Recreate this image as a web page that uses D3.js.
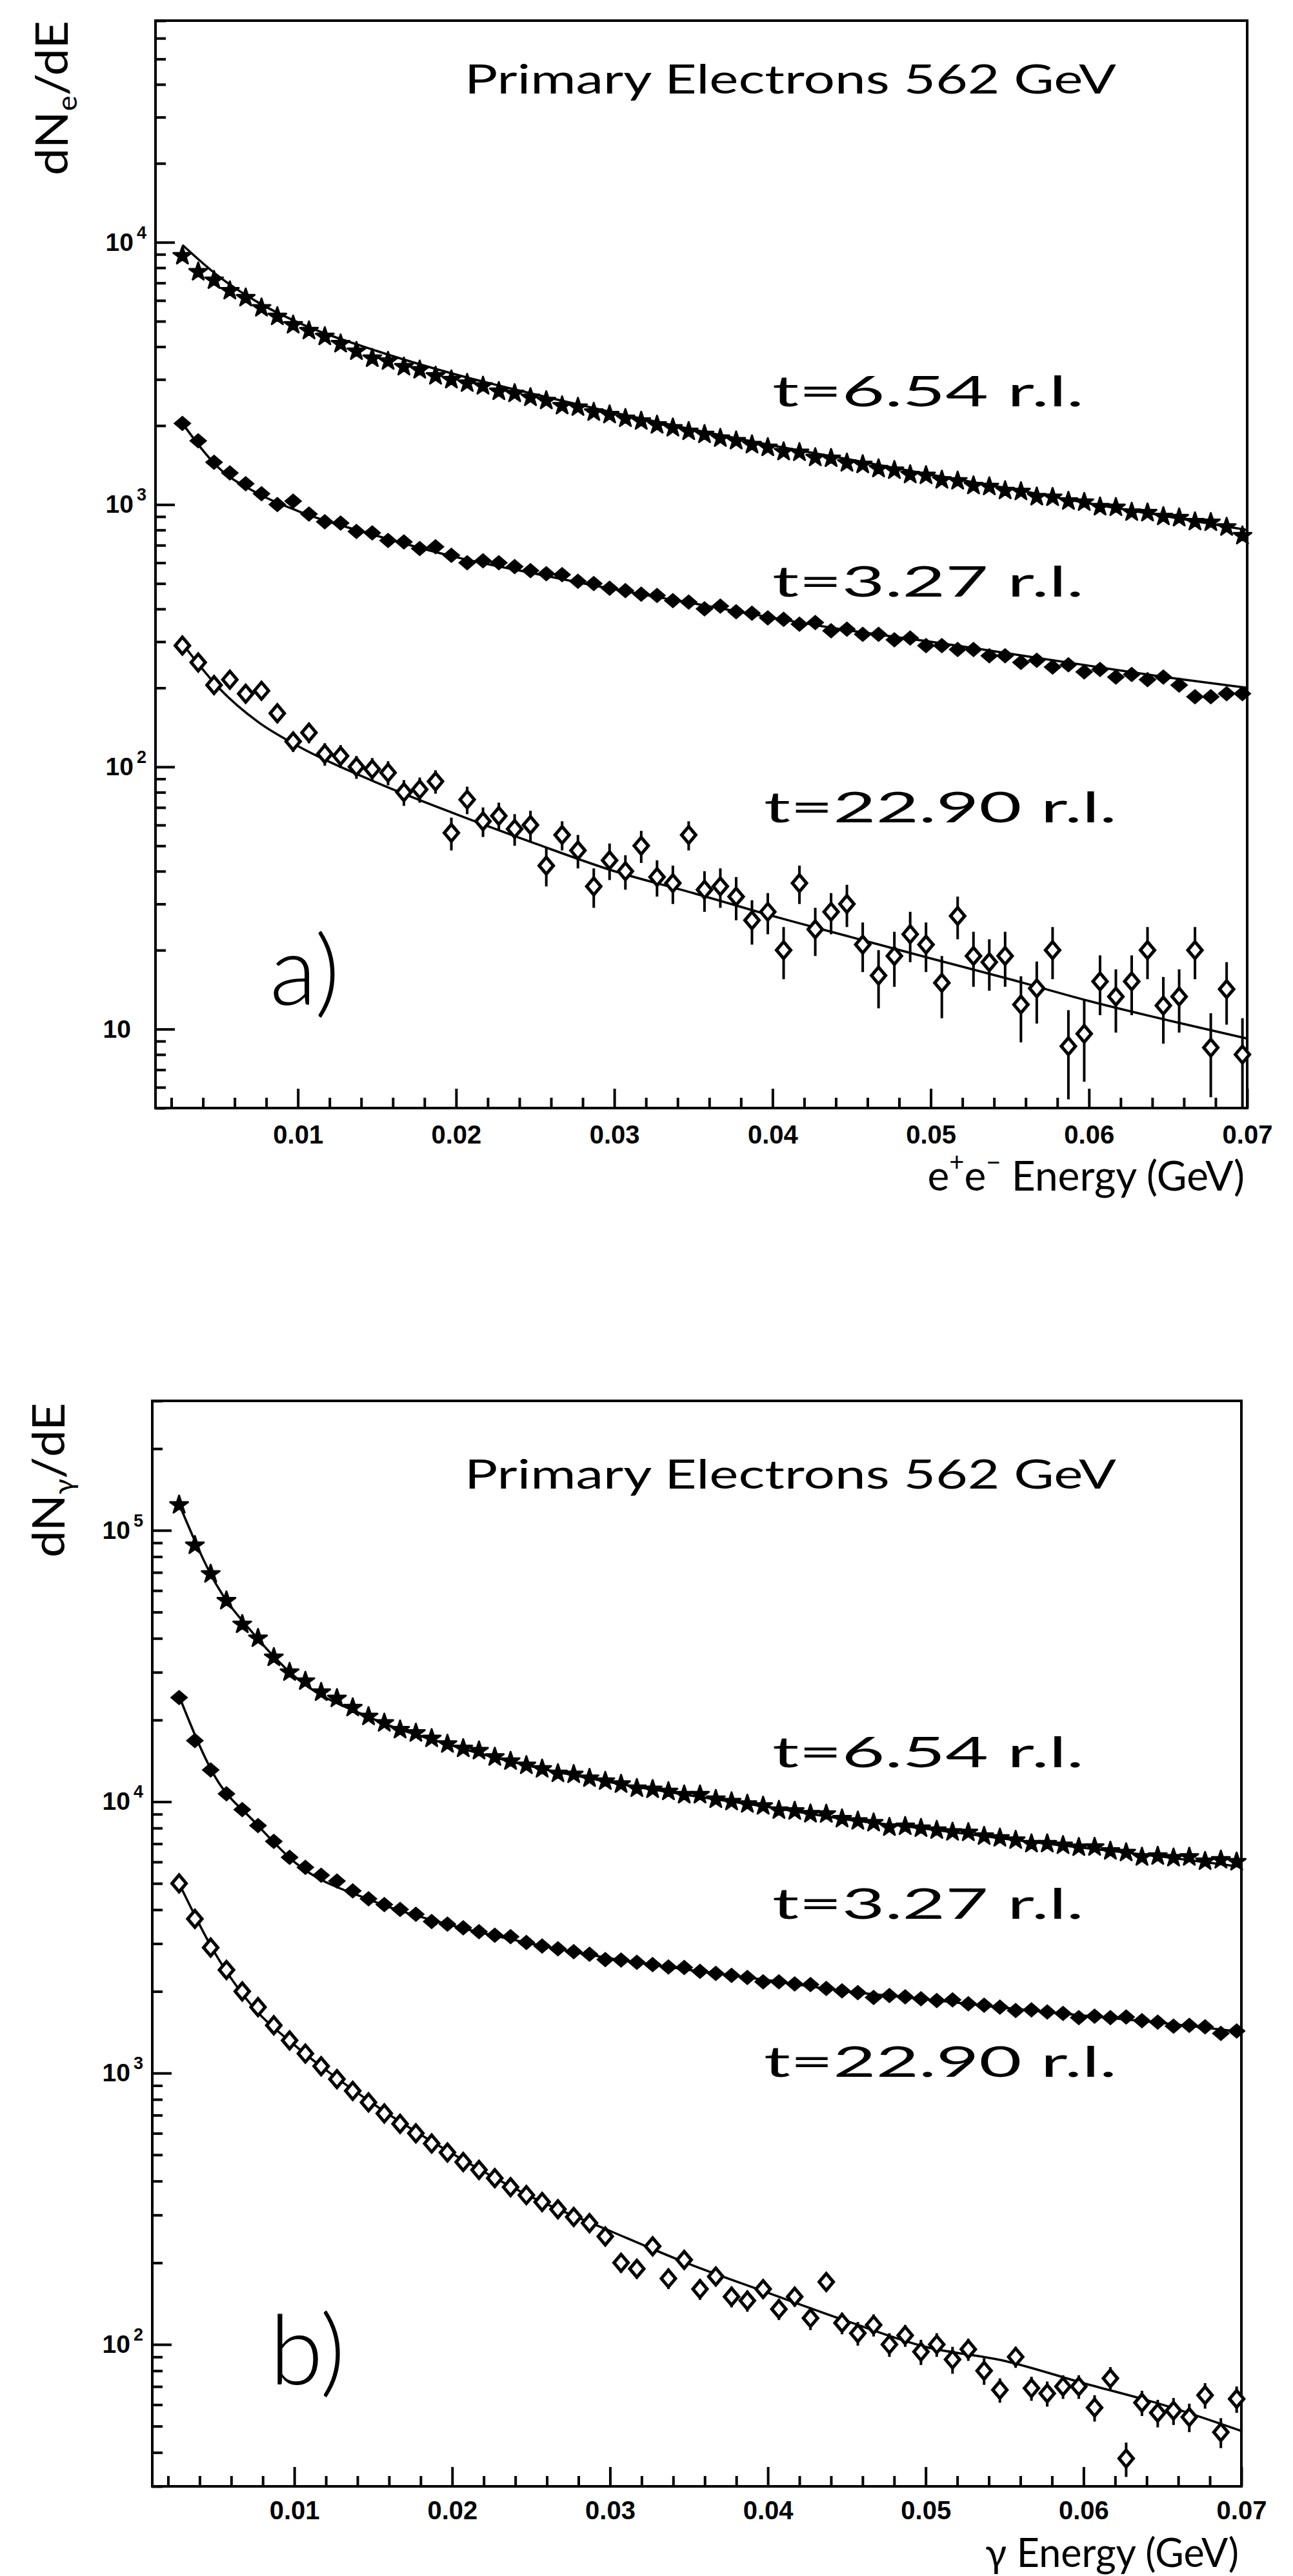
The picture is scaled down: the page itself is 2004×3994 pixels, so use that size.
<!DOCTYPE html>
<html>
<head>
<meta charset="utf-8">
<script src="https://cdn.jsdelivr.net/npm/d3@7"></script>
<style>
  body { margin: 0; background: #fff; }
  .tick line { stroke: #000; stroke-width: 4; }
</style>
</head>
<body>
<div id="chart"></div>
<script>
// bin centres (GeV)
var energy = [0.0027, 0.0037, 0.0047, 0.0057, 0.0067, 0.0077, 0.0087, 0.0097, 0.0107, 0.0117,
  0.0127, 0.0137, 0.0147, 0.0157, 0.0167, 0.0177, 0.0187, 0.0197, 0.0207, 0.0217,
  0.0227, 0.0237, 0.0247, 0.0257, 0.0267, 0.0277, 0.0287, 0.0297, 0.0307, 0.0317,
  0.0327, 0.0337, 0.0347, 0.0357, 0.0367, 0.0377, 0.0387, 0.0397, 0.0407, 0.0417,
  0.0427, 0.0437, 0.0447, 0.0457, 0.0467, 0.0477, 0.0487, 0.0497, 0.0507, 0.0517,
  0.0527, 0.0537, 0.0547, 0.0557, 0.0567, 0.0577, 0.0587, 0.0597, 0.0607, 0.0617,
  0.0627, 0.0637, 0.0647, 0.0657, 0.0667, 0.0677, 0.0687, 0.0697];

// panel a : e+e- spectra
var aStar = [8870, 7710, 7160, 6530, 6140, 5620, 5210, 4840, 4600, 4370, 4100, 3840, 3610, 3520, 3350, 3260, 3090, 2990, 2900, 2830,
  2700, 2650, 2560, 2490, 2380, 2350, 2250, 2200, 2130, 2080, 2010, 1960, 1900, 1850, 1790, 1750, 1690, 1650, 1590, 1580,
  1510, 1500, 1440, 1420, 1370, 1350, 1300, 1290, 1240, 1230, 1180, 1170, 1130, 1120, 1070, 1065, 1030, 1020, 980, 975,
  935, 930, 900, 890, 860, 855, 820, 760];
var aFull = [2040, 1750, 1450, 1320, 1200, 1100, 1000, 1030, 920, 860, 850, 790, 780, 730, 720, 680, 690, 640, 600, 610,
  600, 580, 560, 545, 540, 510, 500, 480, 470, 455, 450, 430, 425, 400, 410, 390, 385, 370, 365, 350,
  355, 330, 335, 320, 320, 305, 310, 290, 290, 280, 280, 265, 265, 250, 255, 240, 245, 230, 235, 220,
  225, 215, 220, 205, 185, 185, 190, 190];
var aOpen = [290, 250, 205, 215, 190, 195, 160, 125, 135, 112, 110, 100, 98, 95, 80, 82, 88, 56, 75, 62,
  65, 58, 60, 42, 55, 48, 35, 44, 40, 50, 38, 36, 55, 34, 35, 32, 26, 28, 20, 36,
  24, 28, 30, 21, 16, 19, 23, 21, 15, 27, 19, 18, 19, 12.4, 14.3, 20, 8.6, 9.6, 15.2, 13.3,
  15.2, 20, 12.3, 13.3, 20, 8.5, 14.2, 8];
var aOpenErr = [18, 16, 15, 15, 14, 14, 13, 11, 12, 11, 11, 10, 10, 10, 9, 9, 9, 8, 9, 8,
  8, 8, 8, 7, 7, 7, 6, 7, 6, 7, 6, 6, 7, 6, 6, 6, 5, 5, 4.5, 6,
  5, 5, 5.5, 4.5, 4, 4.5, 5, 4.5, 4, 5, 4.5, 4, 4.5, 3.5, 3.8, 4.5, 3.2, 3.3, 3.9, 3.6,
  3.9, 4.5, 3.5, 3.6, 4.5, 3, 3.8, 3];

// panel b : gamma spectra
var bStar = [124000, 88000, 69000, 55000, 45000, 40000, 34000, 30000, 27800, 25300, 24000, 22200, 20600, 19500, 18400, 17900, 17100, 16300, 15700, 15400,
  14600, 14100, 13600, 13200, 12700, 12600, 12200, 11900, 11600, 11200, 11100, 10900, 10600, 10600, 10200, 10000, 9800, 9640, 9300, 9230,
  9020, 9000, 8650, 8490, 8360, 8050, 8110, 7980, 7850, 7730, 7700, 7460, 7350, 7210, 7000, 7000, 6900, 6790, 6800, 6580,
  6490, 6250, 6300, 6210, 6250, 6030, 6100, 6000];
var bFull = [24200, 16800, 13100, 10700, 9350, 8170, 7140, 6240, 5730, 5360, 5100, 4690, 4390, 4180, 4010, 3850, 3620, 3540, 3430, 3320,
  3220, 3180, 3030, 2940, 2870, 2800, 2740, 2620, 2610, 2560, 2510, 2460, 2450, 2370, 2330, 2290, 2250, 2170, 2170, 2130,
  2120, 2050, 2010, 1980, 1900, 1930, 1910, 1880, 1850, 1860, 1800, 1780, 1750, 1700, 1710, 1680, 1660, 1600, 1620, 1600,
  1610, 1560, 1540, 1490, 1500, 1480, 1400, 1430];
var bOpen = [5000, 3700, 2900, 2400, 2000, 1750, 1500, 1320, 1180, 1060, 950, 860, 780, 710, 650, 600, 550, 510, 470, 440,
  410, 380, 355, 335, 315, 295, 280, 250, 200, 190, 230, 175, 205, 160, 178, 150, 145, 160, 135, 150,
  125, 170, 120, 110, 118, 100, 108, 94, 100, 88, 96, 80, 68, 90, 69, 66, 70, 70, 58.5, 75,
  38, 61, 56, 57, 54, 65, 47.5, 63];
var bOpenErr = [70, 60, 55, 50, 45, 42, 39, 36, 34, 33, 31, 29, 28, 27, 26, 25, 23, 23, 22, 21,
  20, 20, 19, 18, 18, 17, 17, 16, 16, 15, 15, 15, 14, 14, 13, 13, 13, 12, 12, 12,
  12, 11, 11, 11, 11, 10, 10, 10, 10, 10, 9, 9, 7, 8, 7, 7, 7, 7, 6.5, 7.5,
  5.5, 6.5, 6.5, 6.5, 6.5, 7, 6, 7];

// fitted curves, read at these energies
var fitEnergy = [0.0027, 0.005, 0.0075, 0.01, 0.015, 0.02, 0.025, 0.03, 0.035, 0.04, 0.045, 0.05, 0.055, 0.06, 0.065, 0.07];
var aFitStar = [9770, 7410, 5890, 4950, 3850, 3130, 2630, 2240, 1930, 1680, 1480, 1300, 1150, 1010, 900, 800];
var aFitFull = [2040, 1380, 1100, 945, 760, 630, 545, 475, 420, 370, 330, 300, 270, 243, 219, 200];
var aFitOpen = [295, 200, 148, 120, 87, 66, 51, 40, 33, 27, 22.4, 18.6, 15.5, 12.8, 10.8, 9.2];
var bFitStar = [125000, 64000, 41000, 29000, 20200, 16100, 13500, 11800, 10560, 9570, 8600, 7950, 7300, 6760, 6270, 5750];
var bFitFull = [24500, 12300, 8400, 6000, 4300, 3500, 3000, 2650, 2400, 2200, 2000, 1870, 1740, 1630, 1530, 1420];
var bFitOpen = [5000, 2750, 1720, 1270, 770, 505, 350, 262, 198, 155, 122, 98, 87, 72, 60, 48];

var xLabels = [0.01, 0.02, 0.03, 0.04, 0.05, 0.06, 0.07];
var seriesNames = ["t=6.54 r.l.", "t=3.27 r.l.", "t=22.90 r.l."];

var thinFont = "Lato, 'Open Sans', 'DejaVu Sans', sans-serif";
var numFont = "'Liberation Sans', Arial, sans-serif";

var svg = d3.select("#chart").append("svg")
    .attr("width", 2004)
    .attr("height", 3994)
    .style("background", "#fff");

var starPath = d3.symbol().type(d3.symbolStar).size(240)();
var fullDiamond = "M-14,0L0,-12L14,0L0,12Z";
var openDiamond = "M-11,0L0,-13L11,0L0,13Z";

function drawPanel(p) {
    var x = d3.scaleLinear().domain([0.001, 0.07]).range([p.left, p.right]);
    var y = d3.scaleLog().domain(p.yDomain).range([p.bottom, p.top]);
    var g = svg.append("g");

    // x ticks, pointing inward
    var minor = d3.range(0.002, 0.0695, 0.002).filter(function(d){
        return Math.abs(d * 100 - Math.round(d * 100)) > 1e-6;
    });
    g.append("g")
        .attr("transform", "translate(0," + p.bottom + ")")
        .call(d3.axisBottom(x).tickValues(minor).tickSize(-16).tickFormat(""))
        .call(function(a){ a.select(".domain").remove(); });
    var xa = g.append("g")
        .attr("transform", "translate(0," + p.bottom + ")")
        .call(d3.axisBottom(x).tickValues(xLabels).tickSize(-30).tickPadding(p.labelPad)
            .tickFormat(d3.format(".2f")));
    xa.select(".domain").remove();
    xa.selectAll("text")
        .attr("font-family", numFont)
        .attr("font-weight", "bold")
        .attr("font-size", 40)
        .attr("fill", "#000");

    // y ticks
    var allY = y.ticks();
    var majorY = allY.filter(function(d){ return Math.abs(Math.log10(d) - Math.round(Math.log10(d))) < 1e-6; });
    var minorY = allY.filter(function(d){ return majorY.indexOf(d) < 0; });
    g.append("g")
        .attr("transform", "translate(" + p.left + ",0)")
        .call(d3.axisLeft(y).tickValues(minorY).tickSize(-16).tickFormat(""))
        .call(function(a){ a.select(".domain").remove(); });
    g.append("g")
        .attr("transform", "translate(" + p.left + ",0)")
        .call(d3.axisLeft(y).tickValues(majorY).tickSize(-30).tickFormat(""))
        .call(function(a){ a.select(".domain").remove(); });

    majorY.forEach(function(v){
        var e = Math.round(Math.log10(v));
        var t = g.append("text")
            .attr("font-family", numFont)
            .attr("font-weight", "bold")
            .attr("font-size", 39)
            .attr("y", y(v) + 13);
        if (e === 1) {
            t.attr("x", p.left - 38).attr("text-anchor", "end").text("10");
        } else {
            t.attr("x", p.left - 34).attr("text-anchor", "end").text("10");
            g.append("text")
                .attr("font-family", numFont)
                .attr("font-weight", "bold")
                .attr("font-size", 27)
                .attr("x", p.left - 29)
                .attr("y", y(v) - 6)
                .text(e);
        }
    });

    // frame
    g.append("rect")
        .attr("x", p.left).attr("y", p.top)
        .attr("width", p.right - p.left).attr("height", p.bottom - p.top)
        .attr("fill", "none").attr("stroke", "#000").attr("stroke-width", 4);

    // fits
    var line = d3.line()
        .x(function(d){ return x(d[0]); })
        .y(function(d){ return y(d[1]); })
        .curve(d3.curveMonotoneX);
    p.fits.forEach(function(f){
        g.append("path")
            .attr("d", line(fitEnergy.map(function(e, i){ return [e, f[i]]; })))
            .attr("fill", "none").attr("stroke", "#000").attr("stroke-width", 3.5);
    });

    // error bars of the deep sample
    var pts = energy.map(function(e, i){ return { e: e, v: p.open[i], err: p.openErr[i] }; });
    g.selectAll(".err").data(pts).join("line")
        .attr("x1", function(d){ return x(d.e); })
        .attr("x2", function(d){ return x(d.e); })
        .attr("y1", function(d){ return y(d.v + d.err); })
        .attr("y2", function(d){ return y(Math.max(d.v - d.err, p.yDomain[0])); })
        .attr("stroke", "#000").attr("stroke-width", 4);

    g.selectAll(".star").data(energy).join("path")
        .attr("d", starPath)
        .attr("transform", function(d, i){ return "translate(" + x(d) + "," + y(p.star[i]) + ")"; })
        .attr("fill", "#000").attr("stroke", "#000").attr("stroke-width", 3)
        .attr("stroke-linejoin", "round");
    g.selectAll(".full").data(energy).join("path")
        .attr("d", fullDiamond)
        .attr("transform", function(d, i){ return "translate(" + x(d) + "," + y(p.full[i]) + ")"; })
        .attr("fill", "#000");
    g.selectAll(".open").data(pts).join("path")
        .attr("d", openDiamond)
        .attr("transform", function(d){ return "translate(" + x(d.e) + "," + y(d.v) + ")"; })
        .attr("fill", "#fff").attr("stroke", "#000").attr("stroke-width", 5);

    // texts
    g.append("text")
        .attr("x", 720).attr("y", p.titleY)
        .attr("font-family", thinFont).attr("font-size", 62)
        .attr("textLength", 1010).attr("lengthAdjust", "spacingAndGlyphs")
        .text("Primary Electrons 562 GeV");
    seriesNames.forEach(function(s, i){
        g.append("text")
            .attr("x", i === 2 ? 1184 : 1197).attr("y", p.labelY[i])
            .attr("font-family", thinFont).attr("font-size", 66)
            .attr("textLength", i === 2 ? 547 : 483).attr("lengthAdjust", "spacingAndGlyphs")
            .text(s);
    });
    g.append("text")
        .attr("x", 418).attr("y", p.tagY)
        .attr("font-family", thinFont).attr("font-weight", 300).attr("font-size", 150)
        .text(p.tag);

    var yt = g.append("text")
        .attr("transform", "translate(" + p.yTitleX + "," + p.yTitleY + ") rotate(-90)")
        .attr("font-family", thinFont).attr("font-size", 70)
        .attr("textLength", 240).attr("lengthAdjust", "spacingAndGlyphs");
    yt.append("tspan").text("dN");
    yt.append("tspan").attr("font-size", 42).attr("dy", 14).text(p.sub);
    yt.append("tspan").attr("dy", -14).text("/dE");

    var xt = g.append("text")
        .attr("x", p.right - 4).attr("y", p.bottom + p.xTitleDy)
        .attr("text-anchor", "end")
        .attr("font-family", thinFont).attr("font-size", p.xTitleSize);
    p.xTitle(xt);
}

drawPanel({
    left: 241, right: 1933, top: 32, bottom: 1718,
    yDomain: [5, 70000],
    star: aStar, full: aFull, open: aOpen, openErr: aOpenErr,
    fits: [aFitStar, aFitFull, aFitOpen],
    titleY: 145, labelY: [630, 925, 1275], tag: "a)", tagY: 1558,
    yTitleX: 105, yTitleY: 272, sub: "e",
    labelPad: 27, xTitleDy: 128, xTitleSize: 64,
    xTitle: function(t){
        t.append("tspan").text("e");
        t.append("tspan").attr("font-size", 40).attr("dy", -30).text("+");
        t.append("tspan").attr("dy", 30).text("e");
        t.append("tspan").attr("font-size", 40).attr("dy", -30).text("\u2212");
        t.append("tspan").attr("dy", 30).text(" Energy (GeV)");
    }
});

drawPanel({
    left: 236, right: 1924, top: 2172, bottom: 3855,
    yDomain: [30, 300000],
    star: bStar, full: bFull, open: bOpen, openErr: bOpenErr,
    fits: [bFitStar, bFitFull, bFitOpen],
    titleY: 2308, labelY: [2740, 2975, 3220], tag: "b)", tagY: 3697,
    yTitleX: 100, yTitleY: 2415, sub: "\u03b3",
    labelPad: 23, xTitleDy: 125, xTitleSize: 61,
    xTitle: function(t){
        t.text("\u03b3 Energy (GeV)");
    }
});
</script>
</body>
</html>
